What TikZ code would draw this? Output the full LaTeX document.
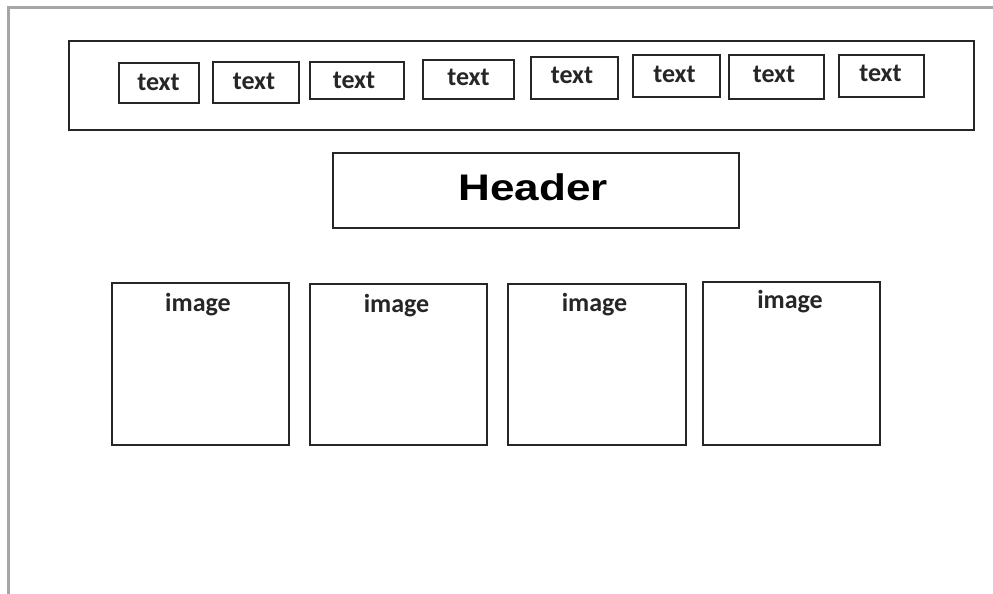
\documentclass[tikz,border=0pt]{standalone}
\usepackage{fontspec}
\newfontfamily\carl{Carlito}
\newfontfamily\libsans{Liberation Sans}
\tikzset{
  frame/.style={draw=black!35, line width=3pt},
  box/.style={draw=black!85, line width=1.6pt, inner sep=0pt},
  lbl/.style={anchor=base, inner sep=0pt, font=\carl\bfseries\fontsize{26}{30}\selectfont, text=black!85},
}
\begin{document}
\begin{tikzpicture}[x=1pt,y=-1pt]
\useasboundingbox[fill=white] (0,0) rectangle (993,594);
\draw[frame] (8,594) -- (8,8) -- (993,8);
% top bar
\node[box, minimum width=905pt, minimum height=89pt] (bar) at (521.5,85.5) {};
\node[box, minimum width=80pt, minimum height=40pt] (b1) at (159,83) {};
\node[box, minimum width=86pt, minimum height=41pt] (b2) at (256,82.5) {};
\node[box, minimum width=94pt, minimum height=37pt] (b3) at (357,80.5) {};
\node[box, minimum width=91pt, minimum height=39pt] (b4) at (468.5,79.5) {};
\node[box, minimum width=87pt, minimum height=42pt] (b5) at (574.5,78) {};
\node[box, minimum width=87pt, minimum height=42pt] (b6) at (676.5,76) {};
\node[box, minimum width=95pt, minimum height=44pt] (b7) at (776.5,77) {};
\node[box, minimum width=85pt, minimum height=42pt] (b8) at (881.5,76) {};
\node[lbl] (l1) at (158.5,90) {text};
\node[lbl] (l2) at (254,89) {text};
\node[lbl] (l3) at (354,88.5) {text};
\node[lbl] (l4) at (468.5,85) {text};
\node[lbl] (l5) at (572,83.5) {text};
\node[lbl] (l6) at (674.5,82) {text};
\node[lbl] (l7) at (774,82) {text};
\node[lbl] (l8) at (880.5,81.5) {text};
% header
\node[box, minimum width=406pt, minimum height=75pt] (hdr) at (536,190.5) {};
\node[anchor=base, inner sep=0pt, text=black] (hdrt) at (533,200)
  {\scalebox{1.19}[1]{\libsans\bfseries\fontsize{37}{44}\selectfont Header}};
% images
\node[box, minimum width=177pt, minimum height=162pt] (i1) at (200.5,364) {};
\node[box, minimum width=177pt, minimum height=161pt] (i2) at (398.5,364.5) {};
\node[box, minimum width=178pt, minimum height=161pt] (i3) at (597,364.5) {};
\node[box, minimum width=177pt, minimum height=163pt] (i4) at (791.5,363.5) {};
\node[lbl] (il1) at (198,311) {image};
\node[lbl] (il2) at (396.5,312.5) {image};
\node[lbl] (il3) at (594.5,311.5) {image};
\node[lbl] (il4) at (790,308) {image};
\end{tikzpicture}
\end{document}
